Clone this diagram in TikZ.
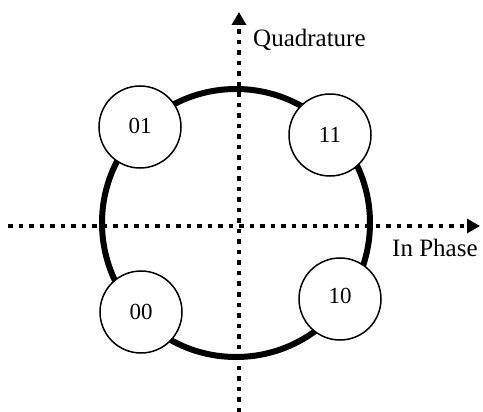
\documentclass[tikz,border=0pt]{standalone}
\usepackage{fontspec}
\setmainfont{Liberation Serif}
\usetikzlibrary{arrows.meta}
\begin{document}
\begin{tikzpicture}[x=1pt,y=-1pt,
  axisline/.style={line width=4.5pt, dash pattern=on 4.5pt off 6pt, -{Triangle[length=13pt,width=14pt]}},
  pointbox/.style={circle, draw, line width=1.5pt, fill=white, minimum size=82pt, inner sep=0pt, font=\fontsize{23}{24}\selectfont},
  lbl/.style={font=\fontsize{25}{27}\selectfont, inner sep=0pt, anchor=base west}]
\useasboundingbox (0,0) rectangle (483,412);
\coordinate (c) at (236,223);
\draw[line width=6pt] (c) circle (134pt);
\coordinate (xs) at (8,226);
\coordinate (xe) at (480,226);
\coordinate (ys) at (239,412);
\coordinate (ye) at (239,12);
\draw[axisline] (xs) -- (xe);
\draw[axisline] (ys) -- (ye);
\node[lbl] (q) at (253,47) {Quadrature};
\node[lbl] (ip) at (392,257) {In Phase};
\node[pointbox] (p01) at (140,127) {\raisebox{3pt}{01}};
\node[pointbox] (p11) at (330,135) {11};
\node[pointbox] (p00) at (141,312) {00};
\node[pointbox] (p10) at (340,299) {\raisebox{7pt}{10}};
\end{tikzpicture}
\end{document}
